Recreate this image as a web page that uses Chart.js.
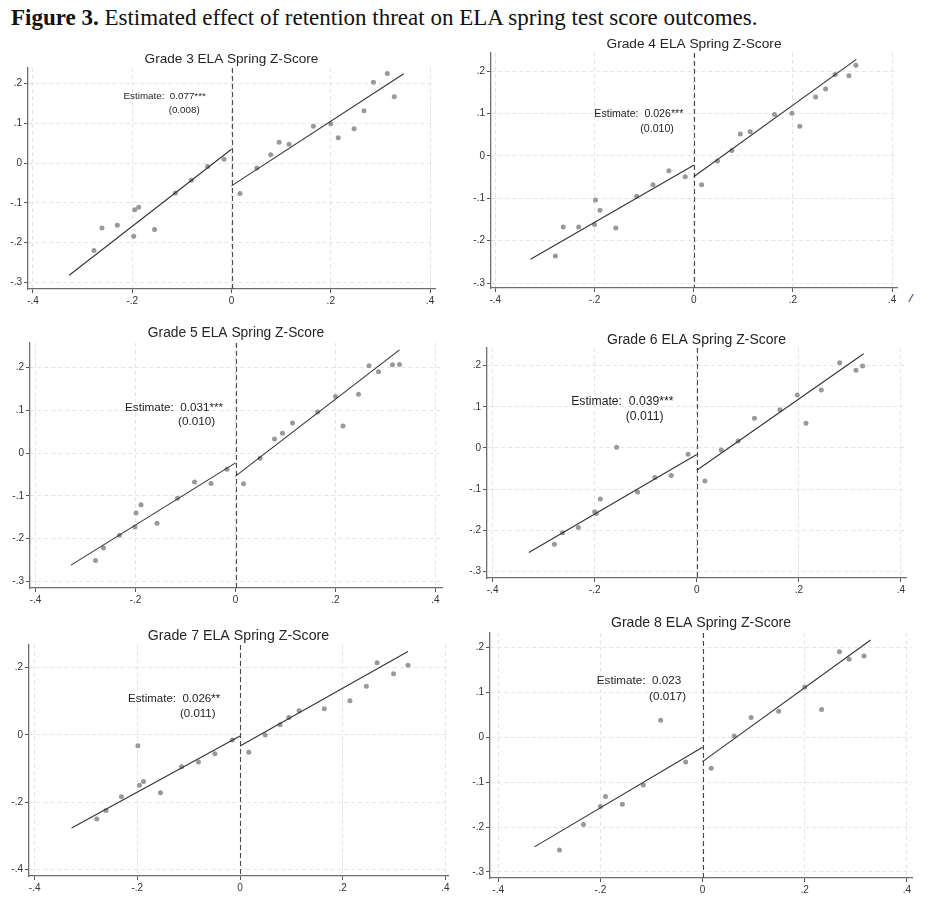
<!DOCTYPE html>
<html><head><meta charset="utf-8">
<script src="https://cdn.jsdelivr.net/npm/chart.js@4.4.1/dist/chart.umd.min.js"></script>
<style>
html,body{margin:0;padding:0;background:#fff;width:936px;height:906px;overflow:hidden;}
body{position:relative;font-family:"Liberation Sans",Arial,sans-serif;}
#cap{position:absolute;left:11px;top:6px;font-family:"Liberation Serif","DejaVu Serif",serif;font-size:23px;line-height:23px;white-space:nowrap;color:#111;}
#mark{position:absolute;left:909px;top:290px;font-family:"Liberation Serif",serif;font-size:13px;font-weight:bold;font-style:italic;color:#111;}
.p{position:absolute;}
</style></head><body>
<div id="cap"><b>Figure 3.</b> Estimated effect of retention threat on ELA spring test score outcomes.</div>
<div id="mark">/</div>
<div class="p" id="w0"><canvas id="c0"></canvas></div>
<div class="p" id="w1"><canvas id="c1"></canvas></div>
<div class="p" id="w2"><canvas id="c2"></canvas></div>
<div class="p" id="w3"><canvas id="c3"></canvas></div>
<div class="p" id="w4"><canvas id="c4"></canvas></div>
<div class="p" id="w5"><canvas id="c5"></canvas></div>
<script>
// ---------- data ----------
const grades = ['Grade 3','Grade 4','Grade 5','Grade 6','Grade 7','Grade 8'];
const titleSuffix = ' ELA Spring Z-Score';
const estimates = ['0.077***','0.026***','0.031***','0.039***','0.026**','0.023'];
const stdErrors = ['(0.008)','(0.010)','(0.010)','(0.011)','(0.011)','(0.017)'];
const xTickValues = [-0.4,-0.2,0,0.2,0.4];
const xTickLabels = ['-.4','-.2','0','.2','.4'];
const yTickValues = [-0.3,-0.2,-0.1,0,0.1,0.2];
const yTickLabels = ['-.3','-.2','-.1','0','.1','.2'];
const yTickValuesG7 = [-0.4,-0.2,0,0.2];
const yTickLabelsG7 = ['-.4','-.2','0','.2'];
const cutoff = 0;

const g3X = [-0.277,-0.261,-0.230,-0.197,-0.195,-0.187,-0.155,-0.113,-0.081,-0.048,-0.015,0.017,0.051,0.079,0.096,0.116,0.165,0.200,0.215,0.247,0.267,0.286,0.314,0.328];
const g3Y = [-0.220,-0.163,-0.156,-0.184,-0.117,-0.111,-0.167,-0.075,-0.043,-0.008,0.010,-0.076,-0.012,0.021,0.053,0.048,0.093,0.099,0.064,0.087,0.132,0.204,0.226,0.167];
const g3FitLeftX = [-0.327,0], g3FitLeftY = [-0.282,0.035];
const g3FitRightX = [0,0.347], g3FitRightY = [-0.057,0.225];

const g4X = [-0.279,-0.263,-0.232,-0.200,-0.198,-0.189,-0.157,-0.115,-0.082,-0.050,-0.017,0.016,0.048,0.077,0.094,0.114,0.163,0.198,0.214,0.246,0.266,0.285,0.313,0.327];
const g4Y = [-0.236,-0.168,-0.168,-0.162,-0.104,-0.128,-0.170,-0.095,-0.068,-0.035,-0.049,-0.068,-0.012,0.013,0.052,0.057,0.098,0.101,0.070,0.139,0.158,0.192,0.189,0.214];
const g4FitLeftX = [-0.329,0], g4FitLeftY = [-0.244,-0.022];
const g4FitRightX = [0,0.328], g4FitRightY = [-0.049,0.228];

const g5X = [-0.280,-0.264,-0.232,-0.201,-0.199,-0.189,-0.157,-0.116,-0.082,-0.049,-0.017,0.016,0.049,0.078,0.094,0.114,0.164,0.200,0.215,0.246,0.267,0.286,0.314,0.328];
const g5Y = [-0.251,-0.222,-0.192,-0.173,-0.140,-0.121,-0.164,-0.106,-0.068,-0.071,-0.038,-0.072,-0.012,0.033,0.046,0.070,0.096,0.132,0.063,0.137,0.204,0.190,0.206,0.207];
const g5FitLeftX = [-0.329,0], g5FitLeftY = [-0.262,-0.023];
const g5FitRightX = [0,0.328], g5FitRightY = [-0.054,0.241];

const g6X = [-0.279,-0.263,-0.232,-0.200,-0.197,-0.189,-0.157,-0.116,-0.082,-0.050,-0.017,0.016,0.048,0.081,0.113,0.163,0.197,0.214,0.244,0.280,0.312,0.325];
const g6Y = [-0.234,-0.206,-0.193,-0.155,-0.159,-0.124,0.002,-0.107,-0.072,-0.067,-0.015,-0.080,-0.005,0.017,0.072,0.093,0.129,0.060,0.141,0.207,0.189,0.199];
const g6FitLeftX = [-0.329,0], g6FitLeftY = [-0.254,-0.016];
const g6FitRightX = [0,0.327], g6FitRightY = [-0.054,0.229];

const g7X = [-0.279,-0.261,-0.231,-0.199,-0.196,-0.188,-0.155,-0.114,-0.081,-0.049,-0.015,0.017,0.049,0.078,0.095,0.115,0.164,0.214,0.246,0.267,0.299,0.327];
const g7Y = [-0.250,-0.225,-0.184,-0.032,-0.150,-0.139,-0.172,-0.095,-0.081,-0.056,-0.015,-0.052,0.000,0.030,0.052,0.072,0.078,0.102,0.145,0.215,0.182,0.207];
const g7FitLeftX = [-0.328,0], g7FitLeftY = [-0.277,-0.003];
const g7FitRightX = [0,0.327], g7FitRightY = [-0.033,0.248];

const g8X = [-0.280,-0.233,-0.200,-0.190,-0.157,-0.116,-0.082,-0.033,0.017,0.062,0.095,0.149,0.200,0.233,0.268,0.287,0.316];
const g8Y = [-0.251,-0.194,-0.154,-0.132,-0.149,-0.106,0.038,-0.055,-0.069,0.003,0.044,0.058,0.112,0.062,0.191,0.174,0.181];
const g8FitLeftX = [-0.329,0], g8FitLeftY = [-0.244,-0.022];
const g8FitRightX = [0,0.329], g8FitRightY = [-0.054,0.217];

// ---------- layout (positions / sizes / styles) ----------
const series = [
  [g3X,g3Y,g3FitLeftX,g3FitLeftY,g3FitRightX,g3FitRightY],
  [g4X,g4Y,g4FitLeftX,g4FitLeftY,g4FitRightX,g4FitRightY],
  [g5X,g5Y,g5FitLeftX,g5FitLeftY,g5FitRightX,g5FitRightY],
  [g6X,g6Y,g6FitLeftX,g6FitLeftY,g6FitRightX,g6FitRightY],
  [g7X,g7Y,g7FitLeftX,g7FitLeftY,g7FitRightX,g7FitRightY],
  [g8X,g8Y,g8FitLeftX,g8FitLeftY,g8FitRightX,g8FitRightY]
];
const layout = [
  {area:[28,68,435,289],  xr:[-0.410,0.410], yr:[-0.3166,0.2396], tSize:13.6, tY:59,  eSize:9.8,  e1:[-0.2175,0.169], e2:[-0.1266,0.1324], yt:0},
  {area:[491,53,897,288], xr:[-0.4087,0.410], yr:[-0.3118,0.243], tSize:13.7, tY:44,  eSize:10.6, e1:[-0.2003,0.098], e2:[-0.1076,0.0628], yt:0},
  {area:[30,343,442,588], xr:[-0.411,0.413], yr:[-0.3154,0.257], tSize:13.8, tY:333, eSize:11.7, e1:[-0.221,0.106],  e2:[-0.115,0.0739], yt:0},
  {area:[487,348,906,578], xr:[-0.411,0.410], yr:[-0.316,0.243],  tSize:14.0, tY:340, eSize:12.2, e1:[-0.246,0.112],  e2:[-0.139,0.0772], yt:0},
  {area:[29,645,448,876],   xr:[-0.411,0.405], yr:[-0.42,0.2676],  tSize:14.2, tY:636, eSize:11.5, e1:[-0.218,0.107],  e2:[-0.117,0.0634], yt:1},
  {area:[490,633,912,878], xr:[-0.416,0.410], yr:[-0.3134,0.2325],tSize:14.1, tY:623, eSize:11.7, e1:[-0.207,0.125],  e2:[-0.1046,0.0914], yt:0}
];
const AXW = 30, XAH = 24;

const refLinePlugin = {
  id:'refLine',
  beforeDatasetsDraw(chart){
    const {ctx, chartArea:a, scales:{x}} = chart;
    const px = Math.round(x.getPixelForValue(cutoff)) + 0.5;
    ctx.save();
    ctx.strokeStyle = '#4a4a4a'; ctx.lineWidth = 1.1; ctx.setLineDash([5,3]);
    ctx.beginPath(); ctx.moveTo(px, a.top); ctx.lineTo(px, a.bottom); ctx.stroke();
    ctx.restore();
  }
};
const notePlugin = {
  id:'note',
  afterDatasetsDraw(chart, args, opts){
    const {ctx, scales:{x,y}} = chart;
    ctx.save();
    ctx.fillStyle = '#1e1e1e';
    ctx.font = opts.size + 'px "Liberation Sans", Arial, sans-serif';
    ctx.textBaseline = 'middle'; ctx.textAlign = 'left';
    ctx.fillText(opts.line1, x.getPixelForValue(opts.p1[0]), y.getPixelForValue(opts.p1[1]));
    ctx.fillText(opts.line2, x.getPixelForValue(opts.p2[0]), y.getPixelForValue(opts.p2[1]));
    ctx.restore();
  }
};

const tickFont = {family:'"Liberation Sans", Arial, sans-serif', size:10};

layout.forEach((L, i) => {
  const [l,t,r,b] = L.area;
  const divTop = Math.round(L.tY - L.tSize/2);
  const padB = Math.max(0, t - divTop - L.tSize);
  const w = document.getElementById('w'+i);
  w.style.left = (l - AXW) + 'px';
  w.style.top = divTop + 'px';
  w.style.width = (r - l + 2*AXW) + 'px';
  w.style.height = (b - divTop + XAH) + 'px';

  const [sx, sy, flx, fly, frx, fry] = series[i];
  const pts = sx.map((v,k)=>({x:v, y:sy[k]}));
  const fitL = flx.map((v,k)=>({x:v, y:fly[k]}));
  const fitR = frx.map((v,k)=>({x:v, y:fry[k]}));
  const yVals = L.yt ? yTickValuesG7 : yTickValues;
  const yLabs = L.yt ? yTickLabelsG7 : yTickLabels;

  new Chart(document.getElementById('c'+i), {
    type:'scatter',
    data:{datasets:[
      {type:'line', data:fitL, showLine:true, borderColor:'#333333', borderWidth:1.1, pointRadius:0, fill:false, xAxisID:'x', yAxisID:'y'},
      {type:'line', data:fitR, showLine:true, borderColor:'#333333', borderWidth:1.1, pointRadius:0, fill:false, xAxisID:'x', yAxisID:'y'},
      {data:pts, backgroundColor:'#999999', borderWidth:0, pointRadius:2.5, xAxisID:'x', yAxisID:'y'}
    ]},
    options:{
      responsive:true, maintainAspectRatio:false, animation:false,
      layout:{padding:0},
      plugins:{
        legend:{display:false}, tooltip:{enabled:false},
        title:{display:true, text:grades[i]+titleSuffix, color:'#262626',
          font:{family:'"Liberation Sans", Arial, sans-serif', size:L.tSize, weight:'normal', lineHeight:1},
          padding:{top:0,bottom:padB}},
        note:{size:L.eSize, line1:'Estimate:  '+estimates[i], line2:stdErrors[i], p1:L.e1, p2:L.e2}
      },
      scales:{
        x:{type:'linear', position:'bottom', min:L.xr[0], max:L.xr[1],
          afterBuildTicks:s=>{ s.ticks = xTickValues.map(v=>({value:v})); },
          afterFit:s=>{ s.height = XAH; },
          ticks:{callback:(v)=>xTickLabels[xTickValues.indexOf(v)], color:'#333', font:tickFont, padding:2, maxRotation:0, autoSkip:false},
          grid:{color:'#e4e4e4', lineWidth:1, tickLength:4, tickColor:'#555', tickBorderDash:[], tickWidth:1},
          border:{display:true, color:'#6e6e6e', width:1.3, dash:[4,3]}
        },
        y:{type:'linear', position:'left', min:L.yr[0], max:L.yr[1],
          afterBuildTicks:s=>{ s.ticks = yVals.map(v=>({value:v})); },
          afterFit:s=>{ s.width = AXW; },
          ticks:{callback:(v)=>yLabs[yVals.indexOf(v)], color:'#333', font:tickFont, padding:2, autoSkip:false},
          grid:{color:'#e4e4e4', lineWidth:1, tickLength:4, tickColor:'#555', tickBorderDash:[], tickWidth:1},
          border:{display:true, color:'#6e6e6e', width:1.3, dash:[4,3]}
        },
        yRightSpace:{type:'linear', position:'right', display:true, min:0, max:1,
          afterFit:s=>{ s.width = AXW; },
          ticks:{display:false}, grid:{display:false, drawTicks:false}, border:{display:false}
        }
      }
    },
    plugins:[refLinePlugin, notePlugin]
  });
});
</script>
</body></html>
